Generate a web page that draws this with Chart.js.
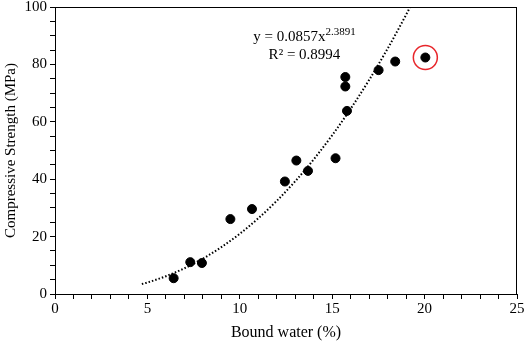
<!DOCTYPE html>
<html>
<head>
<meta charset="utf-8">
<script src="https://cdn.jsdelivr.net/npm/chart.js@4"></script>
<style>
  html, body { margin: 0; padding: 0; background: #fff; }
  #wrap { position: relative; width: 526px; height: 344px; }
</style>
</head>
<body>
<div id="wrap"><canvas id="chart"></canvas></div>
<script>
const boundWater = [6.42, 7.32, 7.95, 9.49, 10.66, 12.44, 13.06, 13.69, 15.18, 15.71, 15.71, 15.8, 17.51, 18.41, 20.04];
const strength = [5.5, 11.1, 10.8, 26.1, 29.6, 39.2, 46.5, 42.9, 47.3, 75.6, 72.3, 63.8, 78.0, 81.0, 82.4];

// Power trendline as drawn (y = 0.0857x^2.3891), sampled from the plot
const trendX = [4.7, 5, 6, 7, 8, 9, 10, 11, 12, 13, 14, 15, 16, 17, 18, 19, 19.2];
const trendY = [3.47, 4.01, 6.2, 8.95, 12.32, 16.33, 20.99, 26.36, 32.45, 39.3, 46.92, 55.32, 64.55, 74.6, 85.52, 97.31, 99.8];

// Highlighted outlier
const circled = [{ x: 20.04, y: 82.4 }];

const xTicks = [0, 5, 10, 15, 20, 25];
const yTicks = [0, 20, 40, 60, 80, 100];

const FONT = "'Liberation Serif', 'Times New Roman', serif";

// Frame around the plot area
const frame = {
  id: "frame",
  afterDraw(chart) {
    const { ctx, chartArea: a } = chart;
    ctx.save();
    ctx.strokeStyle = "#000";
    ctx.lineWidth = 1;
    ctx.strokeRect(a.left + 0.5, a.top + 0.5, a.right - a.left - 1, a.bottom - a.top);
    ctx.restore();
  },
};

// Trendline equation label
const equation = {
  id: "equation",
  afterDatasetsDraw(chart) {
    const { ctx, scales } = chart;
    const cx = scales.x.getPixelForValue(13.5);
    const y1 = scales.y.getPixelForValue(89.4);
    const y2 = scales.y.getPixelForValue(83.3);
    ctx.save();
    ctx.fillStyle = "#000";
    ctx.textBaseline = "middle";
    ctx.font = `15px ${FONT}`;
    const main = "y = 0.0857x";
    const sup = "2.3891";
    const wMain = ctx.measureText(main).width;
    ctx.font = `11px ${FONT}`;
    const wSup = ctx.measureText(sup).width;
    const start = cx - (wMain + wSup) / 2;
    ctx.font = `15px ${FONT}`;
    ctx.textAlign = "left";
    ctx.fillText(main, start, y1);
    ctx.font = `11px ${FONT}`;
    ctx.fillText(sup, start + wMain, y1 - 5);
    ctx.font = `15px ${FONT}`;
    ctx.textAlign = "center";
    ctx.fillText("R\u00b2 = 0.8994", cx, y2);
    ctx.restore();
  },
};

new Chart(document.getElementById("chart"), {
  type: "scatter",
  data: {
    datasets: [
      {
        label: "Trend",
        type: "line",
        data: trendX.map((x, i) => ({ x, y: trendY[i] })),
        borderColor: "#000",
        borderWidth: 2,
        borderDash: [1.5, 2],
        pointRadius: 0,
        fill: false,
        tension: 0.4,
        cubicInterpolationMode: "monotone",
        clip: false,
      },
      {
        label: "Data",
        data: boundWater.map((x, i) => ({ x, y: strength[i] })),
        backgroundColor: "#000",
        borderColor: "#000",
        pointRadius: 4.5,
        pointHoverRadius: 4.5,
      },
      {
        label: "Outlier",
        data: circled,
        backgroundColor: "rgba(0,0,0,0)",
        borderColor: "#e8262b",
        borderWidth: 1.5,
        pointRadius: 12,
        pointHoverRadius: 12,
        clip: false,
      },
    ],
  },
  options: {
    responsive: true,
    maintainAspectRatio: false,
    animation: false,
    layout: { autoPadding: false, padding: { top: 7, right: 9, left: 0, bottom: 0 } },
    plugins: {
      legend: { display: false },
      tooltip: { enabled: false },
    },
    scales: {
      x: {
        type: "linear",
        min: 0,
        max: 25,
        afterFit: (s) => {
          s.height = 50;
          s.paddingLeft = 0;
          s.paddingRight = 0;
        },
        ticks: {
          stepSize: 1,
          autoSkip: false,
          maxRotation: 0,
          padding: 1,
          color: "#000",
          font: { family: FONT, size: 15 },
          callback: (v) => (xTicks.includes(v) ? String(v) : ""),
        },
        grid: { drawOnChartArea: false, drawTicks: true, tickLength: 5, color: "#000" },
        border: { display: true, color: "#000", width: 1 },
        title: {
          display: true,
          text: "Bound water (%)",
          color: "#000",
          font: { family: FONT, size: 16 },
          padding: { top: 0, bottom: 2 },
        },
      },
      y: {
        type: "linear",
        min: 0,
        max: 100,
        afterFit: (s) => {
          s.width = 55;
          s.paddingTop = 0;
          s.paddingBottom = 0;
        },
        ticks: {
          stepSize: 5,
          autoSkip: false,
          padding: 3,
          color: "#000",
          font: { family: FONT, size: 15 },
          callback: (v) => (yTicks.includes(v) ? String(v) : ""),
        },
        grid: { drawOnChartArea: false, drawTicks: true, tickLength: 5, color: "#000" },
        border: { display: true, color: "#000", width: 1 },
        title: {
          display: true,
          text: "Compressive Strength (MPa)",
          color: "#000",
          font: { family: FONT, size: 15 },
          padding: { top: 2, bottom: 0 },
        },
      },
    },
  },
  plugins: [frame, equation],
});
</script>
</body>
</html>
